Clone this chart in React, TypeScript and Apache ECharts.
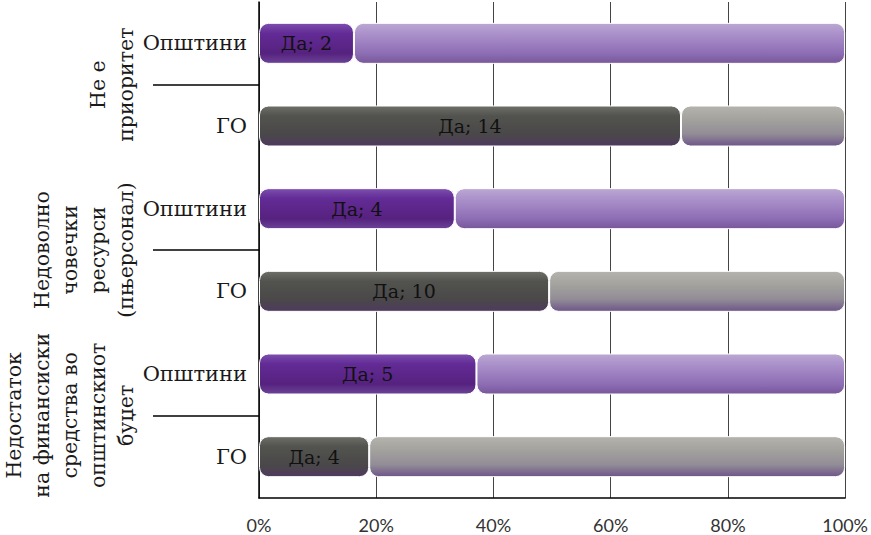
import React, { useEffect, useRef } from 'react';
import * as echarts from 'echarts';

const rowLabels = ['Општини', 'ГО', 'Општини', 'ГО', 'Општини', 'ГО'];
const rowKinds = ['mun', 'ngo', 'mun', 'ngo', 'mun', 'ngo'];
const groupLabels = [
  'Не е\nприоритет',
  'Недоволно\nчовечки\nресурси\n(пњерсонал)',
  'Недостаток\nна финансиски\nсредства во\nопштинскиот\nбуџет',
];
const yesName = 'Да';
const noName = 'Не';
const yesCounts = [2, 14, 4, 10, 5, 4];
const yesShare = [16.2, 72.0, 33.4, 49.5, 37.1, 18.8];
const noShare = [83.8, 28.0, 66.6, 50.5, 62.9, 81.2];

const FONT = 'DejaVu Serif';

const grad = (stops: [number, string][]) =>
  new echarts.graphic.LinearGradient(0, 0, 0, 1, stops.map(([offset, color]) => ({ offset, color })));

const yesColors: Record<string, any> = {
  mun: () => grad([[0, '#7d4fae'], [0.25, '#622b96'], [0.75, '#56227f'], [1, '#6b4397']]),
  ngo: () => grad([[0, '#6e6f69'], [0.25, '#52534e'], [0.7, '#4a4849'], [1, '#4f3a5e']]),
};
const noColors: Record<string, any> = {
  mun: () => grad([[0, '#bba7d3'], [0.3, '#a88ec9'], [0.75, '#8d6db4'], [1, '#785799']]),
  ngo: () => grad([[0, '#b4b3ad'], [0.3, '#a5a49f'], [0.7, '#928c96'], [1, '#6e5589']]),
};

export default function App() {
  const ref = useRef<HTMLDivElement>(null);
  useEffect(() => {
    if (!ref.current) return;
    const chart = echarts.init(ref.current, null, { renderer: 'svg' });
    chart.setOption({
      animation: false,
      backgroundColor: '#ffffff',
      grid: { left: 257, right: 25, top: 2, bottom: 37, containLabel: false },
      xAxis: {
        type: 'value',
        min: 0,
        max: 100,
        interval: 20,
        axisLine: { show: true, lineStyle: { color: '#000', width: 1.5 } },
        axisTick: { show: false },
        splitLine: { show: true, lineStyle: { color: '#444', width: 1 } },
        axisLabel: {
          formatter: '{value}%',
          fontFamily: 'Lato',
          fontSize: 18,
          color: '#333',
          margin: 18,
        },
      },
      yAxis: [
        {
          type: 'category',
          data: rowLabels,
          inverse: true,
          axisLine: { show: true, lineStyle: { color: '#000', width: 1.5 } },
          axisTick: { show: false },
          axisLabel: { fontFamily: FONT, fontSize: 21, color: '#1a1a1a', margin: 12, interval: 0 },
        },
        {
          type: 'category',
          data: groupLabels,
          inverse: true,
          position: 'left',
          offset: 0,
          axisLine: { show: false },
          axisTick: { show: true, alignWithLabel: true, length: 106, lineStyle: { color: '#000', width: 1.5 } },
          axisLabel: {
            rotate: 90,
            interval: 0,
            fontFamily: FONT,
            fontSize: 20.5,
            lineHeight: 28,
            color: '#1a1a1a',
            margin: 119,
          },
        },
      ],
      series: [
        {
          name: yesName,
          type: 'bar',
          stack: 'total',
          yAxisIndex: 0,
          barWidth: 41,
          data: yesShare.map((v, i) => ({
            value: v,
            itemStyle: { color: yesColors[rowKinds[i]](), borderRadius: 9, borderColor: '#fff', borderWidth: 1 },
          })),
          label: {
            show: true,
            position: 'inside',
            fontFamily: FONT,
            fontSize: 19,
            color: '#111',
            formatter: (p: any) => `${yesName}; ${yesCounts[p.dataIndex]}`,
          },
        },
        {
          name: noName,
          type: 'bar',
          stack: 'total',
          yAxisIndex: 0,
          barWidth: 41,
          data: noShare.map((v, i) => ({
            value: v,
            itemStyle: { color: noColors[rowKinds[i]](), borderRadius: 9, borderColor: '#fff', borderWidth: 1 },
          })),
          label: { show: false },
        },
      ],
    });
    return () => chart.dispose();
  }, []);
  return (
    <div
      ref={ref}
      style={{ position: 'fixed', left: 0, top: 0, width: 871, height: 535, background: '#fff' }}
    />
  );
}
